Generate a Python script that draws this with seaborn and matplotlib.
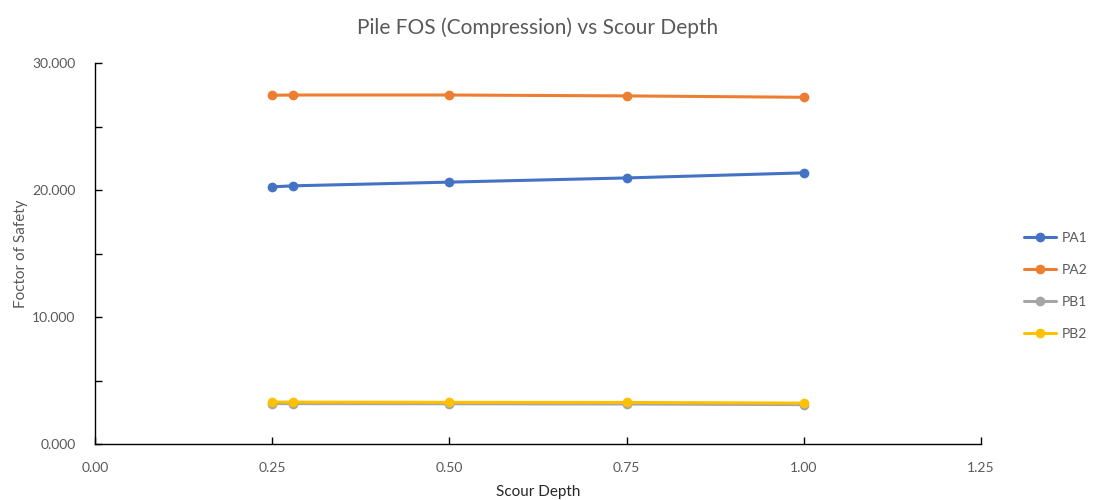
import pandas as pd
import matplotlib.pyplot as plt
import seaborn as sns
from matplotlib.ticker import FormatStrFormatter, MultipleLocator

# data
scour_depth = [0.25, 0.28, 0.50, 0.75, 1.00]
pa1 = [20.25, 20.33, 20.62, 20.95, 21.35]
pa2 = [27.46, 27.48, 27.48, 27.41, 27.30]
pb1 = [3.18, 3.18, 3.17, 3.15, 3.10]
pb2 = [3.30, 3.30, 3.28, 3.27, 3.22]
series_names = ['PA1', 'PA2', 'PB1', 'PB2']
colors = ['#4472C4', '#ED7D31', '#A5A5A5', '#FFC000']

rows = []
for name, vals in zip(series_names, [pa1, pa2, pb1, pb2]):
    for x, y in zip(scour_depth, vals):
        rows.append({'Scour Depth': x, 'FOS': y, 'Pile': name})
df = pd.DataFrame(rows)

sns.set_style('white')
plt.rcParams['font.family'] = ['Lato', 'DejaVu Sans']
grey = '#595959'

fig = plt.figure(figsize=(10.94, 5), dpi=100)
ax = fig.add_axes([95 / 1094, 56 / 500, 886 / 1094, 381 / 500])

sns.lineplot(data=df, x='Scour Depth', y='FOS', hue='Pile', palette=colors,
             marker='o', markersize=7, markeredgewidth=0, linewidth=2.2,
             ax=ax, sort=False)

ax.set_xlim(0, 1.25)
ax.set_ylim(0, 30)
ax.xaxis.set_major_locator(MultipleLocator(0.25))
ax.yaxis.set_major_locator(MultipleLocator(10))
ax.yaxis.set_minor_locator(MultipleLocator(5))
ax.xaxis.set_major_formatter(FormatStrFormatter('%.2f'))
ax.yaxis.set_major_formatter(FormatStrFormatter('%.3f'))
ax.tick_params(axis='both', which='both', direction='in', length=5, width=1,
               color='black', labelsize=10, labelcolor=grey,
               bottom=True, left=True)
ax.tick_params(axis='y', pad=14)
ax.tick_params(axis='x', pad=13)

for side in ['top', 'right']:
    ax.spines[side].set_visible(False)
for side in ['left', 'bottom']:
    ax.spines[side].set_color('black')
    ax.spines[side].set_linewidth(1)

ax.set_xlabel('Scour Depth', fontsize=11, color='#262626', labelpad=8)
ax.set_ylabel('Foctor of Safety', fontsize=11, color=grey, labelpad=3)
ax.set_title('Pile FOS (Compression) vs Scour Depth', fontsize=15, color=grey, pad=21)

leg = ax.legend(loc='center left', bbox_to_anchor=(1.042, 0.415), frameon=False,
                fontsize=10, labelspacing=1.45, handlelength=2.3,
                handletextpad=0.4, borderaxespad=0)
for t in leg.get_texts():
    t.set_color(grey)

fig.savefig('out.png', dpi=100)
